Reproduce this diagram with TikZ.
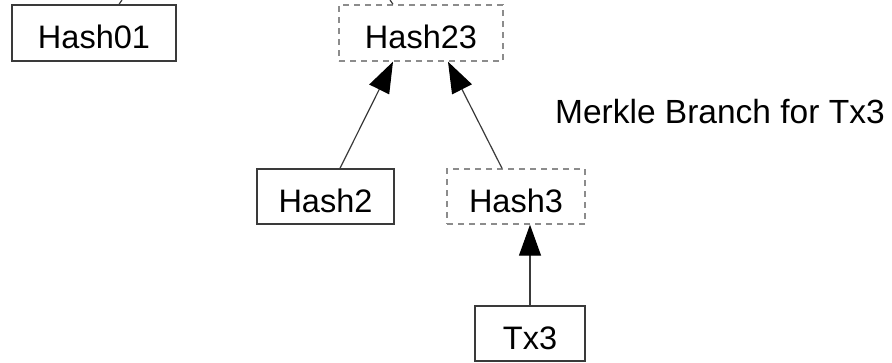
\documentclass[tikz,border=0pt]{standalone}
\usepackage{fontspec}
\setmainfont{Liberation Sans}
\usetikzlibrary{arrows.meta}
\definecolor{edgegray}{HTML}{3A3A3A}
\definecolor{dashgray}{HTML}{8C8C8C}
\begin{document}
\begin{tikzpicture}[x=1pt,y=1pt,
  hashbox/.style={draw=edgegray, line width=1.4pt, inner sep=0pt,
    font=\fontsize{32.5}{32.5}\selectfont, text=black,
    text height=31pt, text depth=0pt},
  branchbox/.style={hashbox, draw=dashgray, dash pattern=on 6pt off 5pt},
  link/.style={draw=edgegray, line width=1.2pt},
  uparrow/.style={link, -{Triangle[length=31pt,width=22pt,fill=black,color=black]}}]
\useasboundingbox (0,0) rectangle (892,-362);

% tree nodes
\node[hashbox, minimum width=164pt, minimum height=56pt] (h01) at (94,-33) {Hash01};
\node[branchbox, minimum width=164pt, minimum height=56pt] (h23) at (421,-33) {Hash23};
\node[hashbox, minimum width=137pt, minimum height=55pt] (h2) at (325.5,-196.5) {Hash2};
\node[branchbox, minimum width=138pt, minimum height=55pt] (h3) at (516,-196.5) {Hash3};
\node[hashbox, minimum width=110pt, minimum height=55pt] (tx) at (530,-333.5) {Tx3};

% caption
\node[anchor=base west, inner sep=0pt, font=\fontsize{33.5}{33.5}\selectfont] (cap) at (555,-123) {Merkle Branch for Tx3};

% links continuing upward to the root
\coordinate (up01) at (122,0);
\coordinate (up23) at (390,0);
\draw[link] ([xshift=25pt]h01.north) -- (up01);
\draw[link] ([xshift=-28pt]h23.north) -- (up23);

% arrows towards the parents
\draw[uparrow] ([xshift=14.5pt]h2.north) -- ([xshift=-28pt]h23.south);
\draw[uparrow] ([xshift=-14pt]h3.north) -- ([xshift=27pt]h23.south);
\draw[uparrow] (tx.north) -- ([xshift=14pt]h3.south);
\end{tikzpicture}
\end{document}
